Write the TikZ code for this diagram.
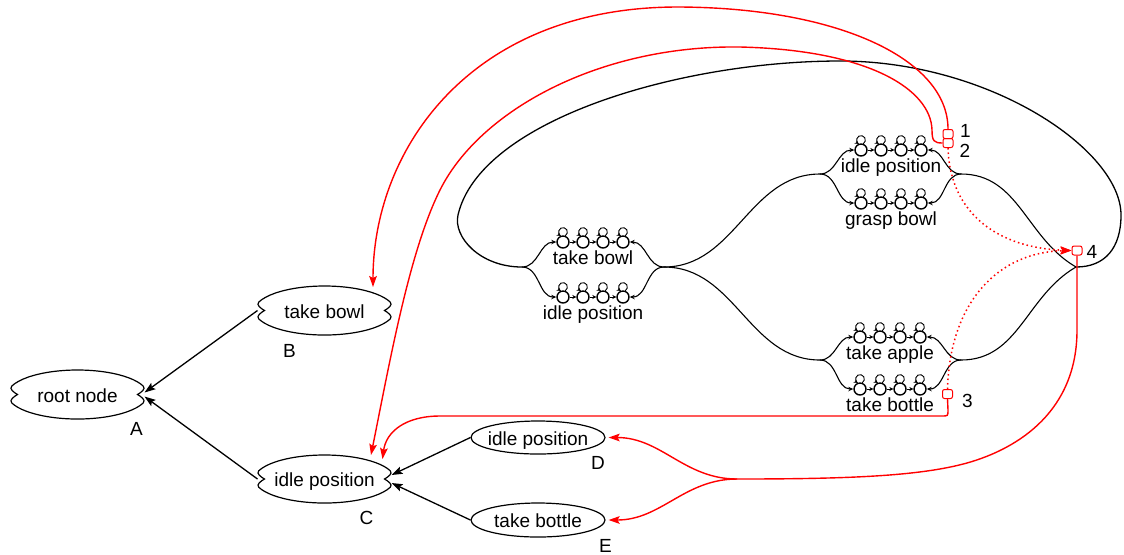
\documentclass[tikz,border=0pt]{standalone}
\usepackage{fontspec}
\setmainfont{Liberation Sans}
\usetikzlibrary{arrows.meta,calc,shapes.geometric}

\tikzset{
  txt/.style={font=\fontsize{9.5}{11}\selectfont, inner sep=0pt},
  shapeline/.style={draw=black, line width=0.6pt},
  blink/.style={draw=black, line width=0.65pt, -{Stealth[length=5.5pt,width=3.8pt,inset=1pt]}},
  rlink/.style={draw=red, line width=0.7pt, -{Stealth[length=5.5pt,width=3.8pt,inset=1pt]}},
  rdots/.style={draw=red, line width=0.75pt, dash pattern=on 0.75pt off 1.5pt,
                -{Stealth[length=5.5pt,width=3.8pt,inset=1pt]}},
  wire/.style={draw=black, line width=0.55pt},
  bigloop/.style={draw=black, line width=0.65pt},
  smalltip/.style={-{Stealth[length=2pt,width=2pt]}},
  chaintip/.style={-{Stealth[length=2.5pt,width=2.2pt]}},
  state/.style={circle, draw=black, line width=0.7pt, minimum size=6pt, inner sep=0pt},
  marker/.style={draw=red, line width=0.5pt, rounded corners=1pt,
                 minimum width=5pt, minimum height=4.5pt, inner sep=0pt},
  plainoval/.style={ellipse, shapeline, txt, text height=7.5pt, text depth=0pt},
}

% cloud-like oval: ellipse with an inward notch on the left and right
% #1 name, #2 x, #3 y, #4 half width, #5 half height, #6 text
\newcommand\cloudnode[6]{%
  \node[ellipse, txt, minimum width=2*#4, minimum height=2*#5,
        text height=7.5pt, text depth=0pt] (#1) at (#2,#3) {\makebox[0pt]{#6}};
  \draw[shapeline]
    ([shift={(20:#4 and #5)}]#1.center)
      arc[start angle=20, end angle=160, x radius=#4, y radius=#5]
      to[out=225, in=150] ([xshift=-#4+5pt]#1.center)
      to[out=210, in=135] ([shift={(200:#4 and #5)}]#1.center)
      arc[start angle=200, end angle=340, x radius=#4, y radius=#5]
      to[out=45, in=-30] ([xshift=#4-5pt]#1.center)
      to[out=30, in=-45] ([shift={(20:#4 and #5)}]#1.center);
  \coordinate (#1-w) at ([xshift=-#4+1.5pt]#1.center);
  \coordinate (#1-e) at ([xshift=#4-1.5pt]#1.center);
}

% left-to-right chain of four states with self loops
% #1 name, #2 x, #3 y, #4 label
\newcommand\chain[4]{%
  \foreach \k in {1,2,3,4}{%
    \node[state] (#1-s\k) at ({#2-50+20*\k},#3) {};
    \draw[wire, line width=0.45pt, smalltip] ([shift={(1.1pt,3.1pt)}]#1-s\k.center)
      arc[start angle=-60, end angle=240, radius=2.2pt];
  }
  \foreach \i/\j in {1/2,2/3,3/4}{%
    \draw[wire, line width=0.45pt, smalltip] (#1-s\i.east) -- (#1-s\j.west);
  }
  \node[txt, anchor=base] (#1) at (#2,{#3+22}) {#4};
}

\begin{document}
\begin{tikzpicture}[x=0.5pt,y=-0.5pt]
\useasboundingbox (0,0) rectangle (1124,554);

% ---------------- tree of tasks ----------------
\cloudnode{A}{77.5}{394.5}{35pt}{12.25pt}{root node}
\cloudnode{B}{324.5}{310.5}{35pt}{12.25pt}{take bowl}
\cloudnode{C}{324.5}{479}{35pt}{12pt}{idle position}
\node[plainoval, minimum width=67pt, minimum height=16.5pt] (D) at (538,437.5) {\makebox[0pt]{idle position}};
\node[plainoval, minimum width=67pt, minimum height=17pt] (E) at (538,520) {\makebox[0pt]{take bottle}};

\node[txt, anchor=base] (lA) at (136.5,435) {A};
\node[txt, anchor=base] (lB) at (289.5,357) {B};
\node[txt, anchor=base] (lC) at (366.5,524.5) {C};
\node[txt, anchor=base] (lD) at (598,469) {D};
\node[txt, anchor=base] (lE) at (605.5,552) {E};

\draw[blink] (B-w) -- ($(A-e)+(0,-2)$);
\draw[blink] (C-w) -- ($(A-e)+(0,2)$);
\draw[blink] (D.west) -- ($(C-e)+(0,-4)$);
\draw[blink] (E.west) -- ($(C-e)+(0,4)$);

% ---------------- network of chains ----------------
\coordinate (F1) at (522,267);
\coordinate (F2) at (664,267);
\coordinate (F3) at (820,174);
\coordinate (F4) at (961,174);
\coordinate (F5) at (820,360);
\coordinate (F6) at (961,360);
\coordinate (F7) at (1076,267);

\chain{c1}{593}{242}{take bowl}
\chain{c2}{593}{297}{idle position}
\chain{c3}{891}{150}{idle position}
\chain{c4}{891}{203}{grasp bowl}
\chain{c5}{890}{337}{take apple}
\chain{c6}{890}{389}{take bottle}

\foreach \c/\fa/\fb in {c1/F1/F2, c2/F1/F2, c3/F3/F4, c4/F3/F4, c5/F5/F6, c6/F5/F6}{%
  \draw[wire, chaintip] (\fa) to[out=0, in=180] (\c-s1.west);
  \draw[wire, chaintip] (\fb) to[out=180, in=0] (\c-s4.east);
}
\draw[wire] (F2) to[out=0, in=180] (F3);
\draw[wire] (F2) to[out=0, in=180] (F5);
\draw[wire] (F4) to[out=0, in=150] (F7);
\draw[wire] (F6) to[out=0, in=210] (F7);
\draw[bigloop] (F7) .. controls (1105,267) and (1121,248) .. (1121,215)
  .. controls (1121,150) and (990,61) .. (840,61)
  .. controls (680,61) and (480,120) .. (458,215)
  .. controls (453,237) and (480,267) .. (F1);

% ---------------- markers ----------------
\node[marker] (b1) at (948,134) {};
\node[marker] (b2) at (948,143) {};
\node[marker] (b3) at (947.5,394) {};
\node[marker] (b4) at (1077,250.5) {};
\node[txt, anchor=base] (n1) at (965.5,137) {1};
\node[txt, anchor=base] (n2) at (965,157) {2};
\node[txt, anchor=base] (n3) at (967.5,407) {3};
\node[txt, anchor=base] (n4) at (1092,258) {4};

\coordinate (Btip) at ($(B.center)+(48.5,-23.5)$);
\coordinate (Ctip1) at ($(C.center)+(46.5,-24)$);
\coordinate (Ctip2) at ($(C.center)+(58,-20)$);
\coordinate (R4) at (737,479);

\draw[rlink] (b1.north) .. controls (948,60) and (840,8) .. (680,7)
  .. controls (470,6) and (373,150) .. (Btip);
\draw[rlink] (b2.west) .. controls (934,143) and (932,141) .. (932,130)
  .. controls (931,90) and (870,50) .. (740,47)
  .. controls (600,45) and (480,110) .. (440,190)
  .. controls (410,250) and (391,355) .. (Ctip1);
\draw[rlink] (b3.south) -- (948,410) .. controls (948,416) .. (942,416) -- (440,416)
  .. controls (405,416) and (386,432) .. (Ctip2);
\draw[draw=red, line width=0.7pt] (b4.south) -- (1077,330)
  .. controls (1077,410) and (1020,448) .. (967,463)
  .. controls (920,476) and (850,479) .. (R4);
\draw[rlink] (R4) to[out=180, in=0] ($(D.east)+(3,0)$);
\draw[rlink] (R4) to[out=180, in=0] ($(E.east)+(3,0)$);
\draw[rdots] (b2.south) .. controls (950,215) and (1000,248) .. (b4.west);
\draw[rdots] (b3.north) .. controls (950,300) and (1000,252) .. (b4.west);

\end{tikzpicture}
\end{document}
